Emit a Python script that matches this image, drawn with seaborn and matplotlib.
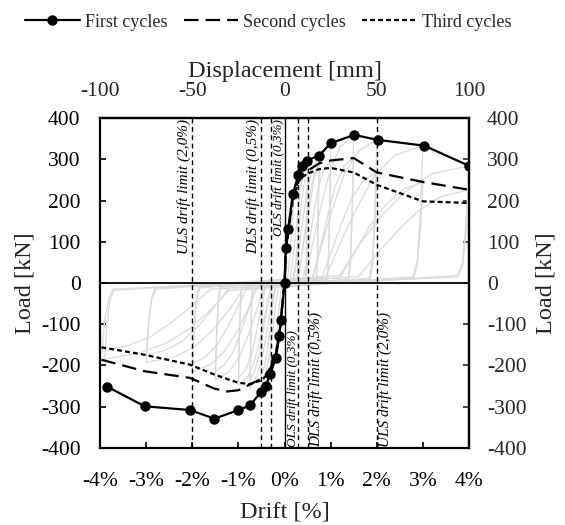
import matplotlib
matplotlib.use("Agg")
import matplotlib.pyplot as plt
import seaborn as sns
import pandas as pd

# ---- envelope curves: drift [%] vs load [kN] ----
first_drift = [-3.85, -3.03, -2.05, -1.52, -1.0, -0.75, -0.51, -0.40, -0.31, -0.19, -0.11, -0.076,
               0.0, 0.03, 0.08, 0.18, 0.30, 0.39, 0.48, 0.75, 1.0, 1.51, 2.02, 3.03, 4.0]
first_load = [-251, -299, -308, -329, -308, -297, -264, -249, -220, -183, -128, -89,
              0, 85, 132, 216, 262, 284, 297, 309, 339, 359, 347, 333, 284]

second_drift = [-3.97, -3.03, -2.05, -1.52, -1.25, -1.0, -0.75, -0.5, -0.4, -0.3, -0.19, -0.11, -0.076,
                0.0, 0.03, 0.08, 0.18, 0.3, 0.4, 0.5, 0.75, 1.0, 1.5, 2.0, 3.0, 4.0]
second_load = [-186, -214, -230, -256, -263, -260, -246, -232, -222, -205, -175, -122, -85,
               0, 80, 125, 205, 250, 263, 272, 290, 297, 303, 268, 245, 226]

third_drift = [-3.97, -3.03, -2.05, -1.52, -1.0, -0.75, -0.5, -0.4, -0.3, -0.19, -0.11, -0.076,
               0.0, 0.03, 0.08, 0.18, 0.3, 0.4, 0.5, 0.75, 1.0, 1.5, 2.0, 3.0, 4.0]
third_load = [-156, -174, -198, -222, -242, -245, -236, -225, -205, -172, -120, -83,
              0, 78, 122, 200, 245, 258, 265, 276, 279, 268, 238, 198, 194]

# ---- raw hysteresis loops (drift [%], load [kN]) ----
loop_03 = [(-0.27, -3), (0.06, 3), (0.12, 70), (0.16, 140), (0.2, 200), (0.25, 240), (0.3, 262), (0.29, 140),
           (0.28, 30), (0.27, 3), (-0.06, -3), (-0.12, -60), (-0.16, -120), (-0.2, -170), (-0.25, -200),
           (-0.3, -220), (-0.29, -120), (-0.28, -30), (-0.27, -3)]
loop_05a = [(-0.45, -5), (0.12, 5), (0.2, 75), (0.27, 150), (0.34, 225), (0.42, 270), (0.5, 297), (0.49, 160),
            (0.47, 45), (0.45, 5), (-0.12, -5), (-0.2, -60), (-0.27, -125), (-0.34, -185), (-0.42, -222),
            (-0.5, -245), (-0.49, -130), (-0.47, -35), (-0.45, -5)]
loop_05b = [(-0.46, -4), (0.18, 4), (0.25, 60), (0.31, 130), (0.37, 200), (0.44, 250), (0.5, 272), (0.49, 150),
            (0.47, 40), (0.46, 4), (-0.18, -4), (-0.25, -50), (-0.31, -110), (-0.37, -165), (-0.44, -205),
            (-0.5, -225), (-0.49, -120), (-0.47, -30), (-0.46, -4)]
loop_075a = [(-0.68, -6), (0.2, 6), (0.3, 75), (0.4, 155), (0.5, 230), (0.62, 280), (0.75, 309), (0.73, 170),
             (0.71, 50), (0.68, 6), (-0.2, -6), (-0.3, -65), (-0.4, -130), (-0.5, -190), (-0.62, -230),
             (-0.75, -255), (-0.73, -135), (-0.71, -40), (-0.68, -6)]
loop_075b = [(-0.7, -5), (0.28, 5), (0.37, 65), (0.46, 140), (0.55, 215), (0.65, 265), (0.75, 290), (0.73, 160),
             (0.71, 45), (0.7, 5), (-0.28, -5), (-0.37, -55), (-0.46, -115), (-0.55, -175), (-0.65, -215),
             (-0.75, -235), (-0.73, -125), (-0.71, -35), (-0.7, -5)]
loop_10a = [(-0.9, -8), (0.3, 8), (0.4, 85), (0.52, 170), (0.65, 255), (0.8, 310), (1.0, 339), (0.98, 185),
            (0.95, 55), (0.92, 8), (-0.3, -8), (-0.4, -65), (-0.52, -130), (-0.65, -190), (-0.8, -228),
            (-1.0, -248), (-0.98, -135), (-0.95, -40), (-0.92, -8)]
loop_10b = [(-0.92, -6), (0.4, 6), (0.5, 70), (0.6, 145), (0.72, 225), (0.85, 275), (1.0, 297), (0.98, 165),
            (0.95, 45), (0.93, 6), (-0.4, -6), (-0.5, -55), (-0.6, -115), (-0.72, -175), (-0.85, -212),
            (-1.0, -230), (-0.98, -125), (-0.95, -35), (-0.93, -6)]
loop_15a = [(-1.36, -10), (0.45, 10), (0.6, 90), (0.78, 180), (0.98, 270), (1.2, 330), (1.5, 359), (1.47, 200),
            (1.43, 60), (1.38, 10), (-0.45, -10), (-0.6, -65), (-0.78, -125), (-0.98, -180), (-1.2, -215),
            (-1.5, -235), (-1.47, -130), (-1.43, -40), (-1.38, -10)]
loop_15b = [(-1.4, -8), (0.6, 8), (0.75, 75), (0.92, 155), (1.1, 235), (1.3, 285), (1.5, 303), (1.47, 170),
            (1.43, 50), (1.4, 8), (-0.6, -8), (-0.75, -55), (-0.92, -110), (-1.1, -165), (-1.3, -198),
            (-1.5, -215), (-1.47, -115), (-1.43, -35), (-1.4, -8)]
loop_20a = [(-1.82, -12), (0.6, 12), (0.8, 90), (1.04, 180), (1.3, 265), (1.6, 320), (2.0, 347), (1.96, 190),
            (1.91, 60), (1.84, 12), (-0.6, -12), (-0.8, -65), (-1.04, -120), (-1.3, -165), (-1.6, -198),
            (-2.0, -215), (-1.96, -115), (-1.91, -40), (-1.84, -12)]
loop_20b = [(-1.86, -10), (0.8, 10), (1.0, 70), (1.22, 140), (1.46, 205), (1.72, 250), (2.0, 268), (1.96, 150),
            (1.91, 45), (1.86, 10), (-0.8, -10), (-1.0, -55), (-1.22, -105), (-1.46, -150), (-1.72, -180),
            (-2.0, -195), (-1.96, -105), (-1.91, -35), (-1.86, -10)]
loop_30a = [(-2.75, -15), (0.9, 15), (1.2, 95), (1.56, 180), (1.95, 260), (2.4, 310), (3.0, 333), (2.95, 180),
            (2.88, 55), (2.78, 15), (-0.9, -15), (-1.2, -65), (-1.56, -115), (-1.95, -155), (-2.4, -180),
            (-3.0, -192), (-2.95, -105), (-2.88, -40), (-2.78, -15)]
loop_30b = [(-2.8, -12), (1.2, 12), (1.5, 70), (1.83, 135), (2.2, 190), (2.58, 228), (3.0, 245), (2.95, 135),
            (2.88, 45), (2.8, 12), (-1.2, -12), (-1.5, -55), (-1.83, -100), (-2.2, -140), (-2.58, -163),
            (-3.0, -175), (-2.95, -95), (-2.88, -35), (-2.8, -12)]
loop_40a = [(-3.7, -18), (1.2, 18), (1.6, 90), (2.08, 160), (2.6, 220), (3.2, 265), (4.0, 284), (3.94, 160),
            (3.86, 50), (3.74, 18), (-1.2, -18), (-1.6, -65), (-2.05, -110), (-2.55, -145), (-3.15, -170),
            (-3.9, -185), (-3.85, -100), (-3.78, -40), (-3.7, -18)]
loop_40b = [(-3.72, -15), (1.6, 15), (2.0, 70), (2.44, 125), (2.9, 175), (3.4, 210), (4.0, 226), (3.94, 125),
            (3.86, 40), (3.76, 15), (-1.6, -15), (-2.0, -55), (-2.44, -95), (-2.9, -130), (-3.4, -152),
            (-3.95, -165), (-3.9, -90), (-3.8, -35), (-3.72, -15)]
hysteresis_loops = [loop_03, loop_05a, loop_05b, loop_075a, loop_075b, loop_10a, loop_10b,
                    loop_15a, loop_15b, loop_20a, loop_20b, loop_30a, loop_30b, loop_40a, loop_40b]

# ---- drift limits ----
limit_drifts = [-2.0, -0.5, -0.3, 0.3, 0.5, 2.0]

drift_ticks = [-4, -3, -2, -1, 0, 1, 2, 3, 4]
drift_labels = ["-4%", "-3%", "-2%", "-1%", "0%", "1%", "2%", "3%", "4%"]
disp_ticks = [-100, -50, 0, 50, 100]
load_ticks = [-400, -300, -200, -100, 0, 100, 200, 300, 400]

sns.set_theme(style="ticks")
plt.rcParams["font.family"] = ["Liberation Serif", "DejaVu Serif"]
plt.rcParams["axes.unicode_minus"] = False

TICK_FS = 15.5
LABEL_FS = 17.5

fig = plt.figure(figsize=(5.65, 5.25), dpi=100)
ax = fig.add_axes([0.177, 0.1467, 0.6531, 0.6285])

grey = "#dadada"
for loop in hysteresis_loops:
    df = pd.DataFrame(loop, columns=["drift", "load"])
    sns.lineplot(data=df, x="drift", y="load", sort=False, estimator=None,
                 color=grey, linewidth=0.9, ax=ax, zorder=1)

# reference lines
ax.axhline(0, color="black", linewidth=1.3, zorder=3)
ax.axvline(0, color="black", linewidth=1.0, zorder=3)
for d in limit_drifts:
    ax.axvline(d, color="black", linewidth=1.0, linestyle=(0, (3.5, 2.5)), zorder=3)

env1 = pd.DataFrame({"drift": first_drift, "load": first_load})
env2 = pd.DataFrame({"drift": second_drift, "load": second_load})
env3 = pd.DataFrame({"drift": third_drift, "load": third_load})

sns.lineplot(data=env3, x="drift", y="load", sort=False, estimator=None, color="black",
             linewidth=1.6, linestyle=(0, (2.2, 1.4)), ax=ax, zorder=4, label="Third cycles")
sns.lineplot(data=env2, x="drift", y="load", sort=False, estimator=None, color="black",
             linewidth=1.6, linestyle=(0, (6.5, 3.2)), ax=ax, zorder=4, label="Second cycles")
sns.lineplot(data=env1, x="drift", y="load", sort=False, estimator=None, color="black",
             linewidth=1.6, marker="o", markersize=7.5, markeredgewidth=0, ax=ax, zorder=5,
             label="First cycles")

handles, labels = ax.get_legend_handles_labels()
ax.get_legend().remove()
order = [labels.index(n) for n in ["First cycles", "Second cycles", "Third cycles"]]
fig.legend([handles[i] for i in order], [labels[i] for i in order], loc="upper center",
           bbox_to_anchor=(0.475, 1.005), ncol=3, frameon=False, fontsize=13,
           handlelength=3.0, handletextpad=0.3, columnspacing=0.9)

# drift-limit annotations
lab_kw = dict(rotation=90, style="italic", color="black", zorder=6)
ax.text(-2.02, 397, "ULS drift limit (2,0%)", ha="right", va="top", fontsize=11, **lab_kw)
ax.text(-0.52, 397, "DLS drift limit (0,5%)", ha="right", va="top", fontsize=11, **lab_kw)
ax.text(-0.12, 397, "OLS drift limit (0,3%)", ha="center", va="top", fontsize=9.5, **lab_kw)
ax.text(0.19, -397, "OLS drift limit (0,3%)", ha="center", va="bottom", fontsize=9.5, **lab_kw)
ax.text(0.53, -397, "DLS drift limit (0,5%)", ha="left", va="bottom", fontsize=11, **lab_kw)
ax.text(2.03, -397, "ULS drift limit (2,0%)", ha="left", va="bottom", fontsize=11, **lab_kw)

ax.set_xlim(-4, 4)
ax.set_ylim(-400, 400)
ax.set_xticks(drift_ticks)
ax.set_xticklabels(drift_labels)
ax.set_yticks(load_ticks)
ax.set_xlabel("Drift [%]", fontsize=LABEL_FS, labelpad=7)
ax.set_ylabel("Load [kN]", fontsize=LABEL_FS, labelpad=4)
ax.tick_params(direction="in", length=4, width=1.2, labelsize=TICK_FS, pad=14, colors="black")
ax.tick_params(axis="x", pad=17.5)

top = ax.secondary_xaxis("top", functions=(lambda d: d * 25.0, lambda m: m / 25.0))
top.set_xticks(disp_ticks)
top.set_xlabel("Displacement [mm]", fontsize=LABEL_FS, labelpad=4)
top.tick_params(direction="in", length=0, labelsize=TICK_FS, pad=12)

right = ax.secondary_yaxis("right", functions=(lambda v: v, lambda v: v))
right.set_yticks(load_ticks)
right.set_ylabel("Load [kN]", fontsize=LABEL_FS, labelpad=6)
right.tick_params(direction="in", length=4, width=1.2, labelsize=TICK_FS, pad=13)

for s in ax.spines.values():
    s.set_linewidth(1.6)
    s.set_color("black")
    s.set_visible(True)
for s in list(top.spines.values()) + list(right.spines.values()):
    s.set_linewidth(1.6)
    s.set_color("black")

fig.savefig("out.png", dpi=100)
